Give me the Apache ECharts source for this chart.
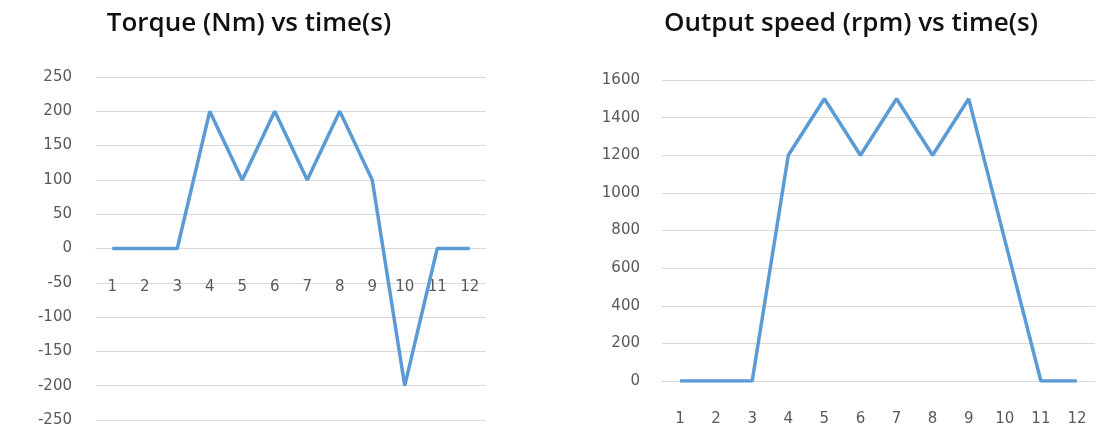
<!DOCTYPE html>
<html>
<head>
<meta charset="utf-8">
<script src="https://cdn.jsdelivr.net/npm/echarts@6/dist/echarts.min.js"></script>
<style>
  html, body { margin: 0; padding: 0; background: #fff; }
  #chart { width: 1106px; height: 435px; }
</style>
</head>
<body>
<div id="chart"></div>
<script>
const times = ["1", "2", "3", "4", "5", "6", "7", "8", "9", "10", "11", "12"];
const torque = [0, 0, 0, 200, 100, 200, 100, 200, 100, -200, 0, 0];
const speed = [0, 0, 0, 1200, 1500, 1200, 1500, 1200, 1500, 750, 0, 0];

const lineColor = "#5b9bd5";
const gridColor = "#d9d9d9";
const labelColor = "#595959";
const labelFont = "DejaVu Sans";

const myChart = echarts.init(document.getElementById("chart"));

const titleStyle = { fontFamily: "Open Sans", fontSize: 26, fontWeight: 600, color: "#111" };
const tickLabel = { color: labelColor, fontFamily: labelFont, fontSize: 15 };

const option = {
    animation: false,
    title: [
        { text: "Torque (Nm) vs time(s)", left: 244, top: 6, textAlign: "center", textStyle: titleStyle },
        { text: "Output speed (rpm) vs time(s)", left: 846, top: 6, textAlign: "center", textStyle: titleStyle },
    ],
    grid: [
        { left: 96, right: 620, top: 77, bottom: 15, outerBoundsMode: "none" },
        { left: 662, right: 11, top: 80, bottom: 54, outerBoundsMode: "none" },
    ],
    xAxis: [
        {
            gridIndex: 0,
            type: "category",
            data: times,
            position: "bottom",
            // zero line sits half way up the grid (343px tall)
            offset: -171.5,
            axisLine: { onZero: false, lineStyle: { color: gridColor } },
            axisTick: { show: false },
            axisLabel: { ...tickLabel, margin: 31 },
        },
        {
            gridIndex: 1,
            type: "category",
            data: times,
            axisLine: { show: false },
            axisTick: { show: false },
            axisLabel: { ...tickLabel, margin: 31 },
        },
    ],
    yAxis: [
        {
            gridIndex: 0,
            type: "value",
            min: -250,
            max: 250,
            interval: 50,
            axisLine: { show: false },
            axisTick: { show: false },
            splitLine: { lineStyle: { color: gridColor } },
            axisLabel: { ...tickLabel, margin: 24, formatter: (v) => String(v) },
        },
        {
            gridIndex: 1,
            type: "value",
            min: 0,
            max: 1600,
            interval: 200,
            axisLine: { show: false },
            axisTick: { show: false },
            splitLine: { lineStyle: { color: gridColor } },
            axisLabel: { ...tickLabel, margin: 22, formatter: (v) => String(v) },
        },
    ],
    series: [
        {
            name: "Torque",
            type: "line",
            xAxisIndex: 0,
            yAxisIndex: 0,
            data: torque,
            showSymbol: false,
            lineStyle: { color: lineColor, width: 3.5 },
        },
        {
            name: "Speed",
            type: "line",
            xAxisIndex: 1,
            yAxisIndex: 1,
            data: speed,
            showSymbol: false,
            lineStyle: { color: lineColor, width: 3.5 },
        },
    ],
};
myChart.setOption(option);
</script>
</body>
</html>
